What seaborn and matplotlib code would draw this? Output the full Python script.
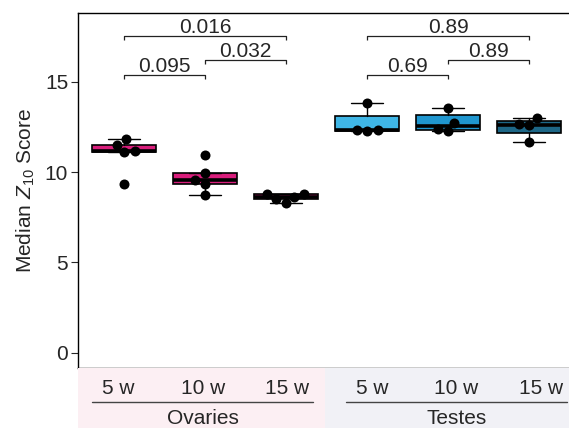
"""Median Z10 score by age in ovaries and testes: box + swarm with p-value brackets."""
import matplotlib
matplotlib.use("Agg")
import matplotlib.pyplot as plt  # noqa: E402
import numpy as np  # noqa: E402
import pandas as pd  # noqa: E402
import seaborn as sns  # noqa: E402

# ---- data ----
tissues = ["Ovaries", "Testes"]
ages = ["5 w", "10 w", "15 w"]
ovaries_5w = [11.81, 11.53, 11.12, 11.18, 9.34]
ovaries_10w = [10.95, 9.98, 9.37, 9.56, 8.75]
ovaries_15w = [8.80, 8.77, 8.65, 8.50, 8.30]
testes_5w = [13.85, 12.32, 12.27, 12.32]
testes_10w = [13.57, 12.74, 12.27, 12.41]
testes_15w = [13.02, 12.63, 12.65, 11.67]
groups = [ovaries_5w, ovaries_10w, ovaries_15w, testes_5w, testes_10w, testes_15w]
group_keys = [f"{t} {a}" for t in tissues for a in ages]
box_colors = ["#D91E7C", "#D91E7C", "#D91E7C", "#3FB6E6", "#1F96CF", "#1D6787"]
# (left group, right group, p-value label, bracket level)
comparisons = [(0, 1, "0.095", 0), (1, 2, "0.032", 1), (0, 2, "0.016", 2),
               (3, 4, "0.69", 0), (4, 5, "0.89", 1), (3, 5, "0.89", 2)]
bracket_levels = [15.37, 16.20, 17.53]

df = pd.DataFrame({
    "group": np.repeat(group_keys, [len(g) for g in groups]),
    "z10": np.concatenate(groups),
})

sns.set_style("ticks")
plt.rcParams["font.family"] = ["Liberation Sans", "DejaVu Sans"]
plt.rcParams["mathtext.fontset"] = "custom"
plt.rcParams["mathtext.rm"] = "Liberation Sans"
plt.rcParams["mathtext.it"] = "Liberation Sans:italic"
FS = 15


def fivenum(v):
    """Tukey five-number summary (hinges), as R's boxplot uses."""
    x = np.sort(np.asarray(v, dtype=float))
    n = len(x)
    n4 = np.floor((n + 3) / 2) / 2
    d = np.array([1, n4, (n + 1) / 2, n + 1 - n4, n]) - 1
    return 0.5 * (x[np.floor(d).astype(int)] + x[np.ceil(d).astype(int)])


def box_stats(v):
    x = np.asarray(v, dtype=float)
    _, q1, med, q3, _ = fivenum(x)
    iqr = q3 - q1
    return {"med": med, "q1": q1, "q3": q3,
            "whislo": x[x >= q1 - 1.5 * iqr].min(),
            "whishi": x[x <= q3 + 1.5 * iqr].max(),
            "fliers": []}


fig = plt.figure(figsize=(5.69, 4.28), dpi=100)
W, H = 569, 428
ax = fig.add_axes([78.3 / W, (H - 367.5) / H, 509 / W, 354.2 / H])
strip = fig.add_axes([78.3 / W, 0, 509 / W, 60.5 / H])

# points on the categorical scale, boxes on the same positions
sns.swarmplot(data=df, x="group", y="z10", order=group_keys, color="black",
              size=7.2, linewidth=0, ax=ax, zorder=3)
bp = ax.bxp([box_stats(g) for g in groups], positions=range(len(groups)),
            widths=0.8, capwidths=0.4, patch_artist=True, showfliers=False,
            manage_ticks=False,
            boxprops=dict(edgecolor="black", linewidth=1.2),
            medianprops=dict(color="black", linewidth=2.6, solid_capstyle="butt"),
            whiskerprops=dict(color="black", linewidth=1.0),
            capprops=dict(color="black", linewidth=1.0))
for patch, c in zip(bp["boxes"], box_colors):
    patch.set_facecolor(c)
    patch.set_zorder(2)

for i, j, label, lvl in comparisons:
    y = bracket_levels[lvl]
    ax.plot([i, i, j, j], [y - 0.22, y, y, y - 0.22], color="#222222",
            lw=0.9, solid_capstyle="butt")
    ax.text((i + j) / 2, y + 0.2, label, ha="center", va="baseline", fontsize=FS)

ax.set_xlim(-0.565, -0.565 + 509 / 81)
ax.set_ylim(-0.82, 18.80)
ax.set_xticks([])
ax.set_xlabel("")
ax.set_yticks([0, 5, 10, 15])
ax.tick_params(axis="y", labelsize=FS, length=4.8, width=0.8, pad=2.5)
ax.set_ylabel(r"Median $Z_{\mathit{10}}$ Score", fontsize=FS)
ax.yaxis.set_label_coords(-0.082, 0.5)
for s in ["left", "bottom", "top"]:
    ax.spines[s].set_color("black")
    ax.spines[s].set_linewidth(1.0)
ax.spines["right"].set_visible(False)

# age / tissue strip under the panel
positions = np.arange(len(group_keys))
strip.axvspan(-1, 2.5, color="#FCEFF3", lw=0)
strip.axvspan(2.5, 7, color="#F1F1F6", lw=0)
strip.set_xlim(-0.416, -0.416 + 509 / 84.6)
strip.set_ylim(0, 1)
strip.set_xticks(positions)
strip.set_yticks([])
strip.tick_params(axis="x", direction="in", top=True, bottom=False,
                  labeltop=False, labelbottom=False, length=5.4,
                  width=0.8, color="#777777")
for s in strip.spines.values():
    s.set_visible(False)
for k, pos in enumerate(positions):
    strip.text(pos + 0.055, 0.645, ages[k % 3], ha="center", va="center",
               fontsize=FS)
for t, tissue in enumerate(tissues):
    first, last = 3 * t, 3 * t + 2
    strip.plot([first - 0.25, last + 0.36], [0.425, 0.425], color="#444444",
               lw=1.0)
    strip.text((first + last) / 2 + 0.06, 0.165, tissue, ha="center",
               va="center", fontsize=FS)

fig.savefig("out.png", dpi=100)
